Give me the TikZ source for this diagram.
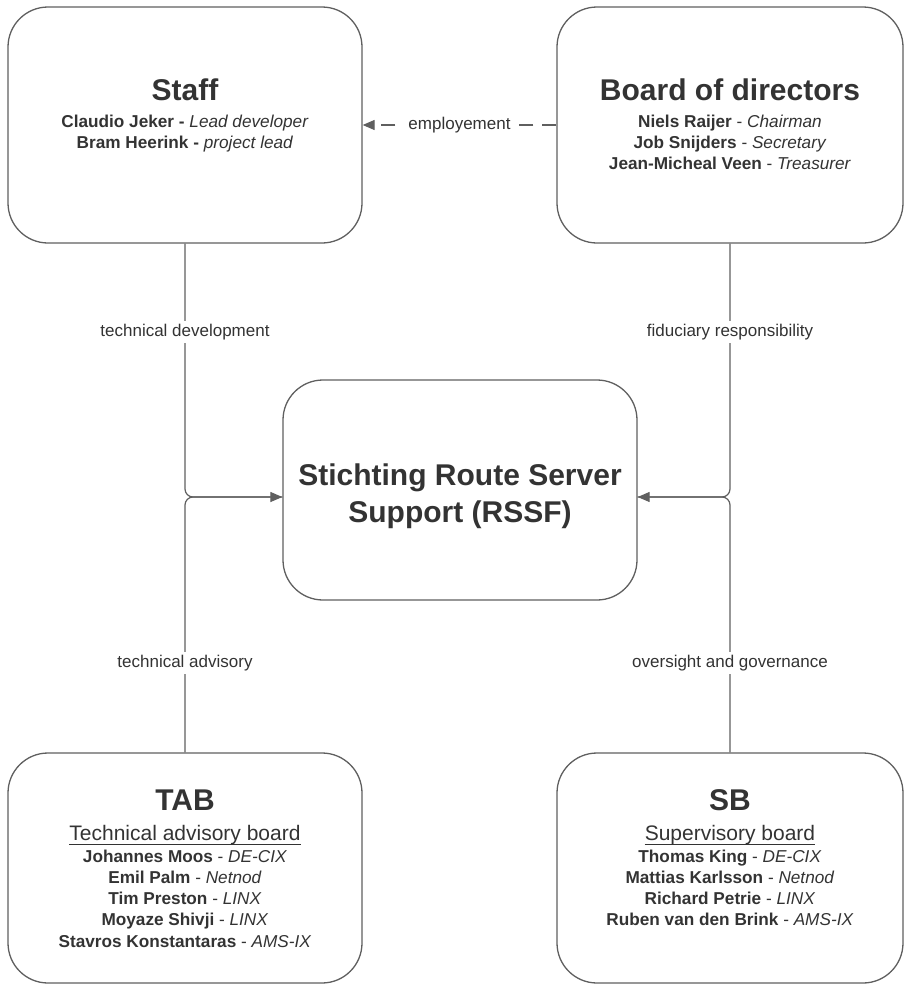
\documentclass[tikz,border=0pt]{standalone}
\usepackage{fontspec}
\setmainfont{Liberation Sans}
\usetikzlibrary{arrows.meta}
\definecolor{txt}{HTML}{333333}
\definecolor{ln}{HTML}{5F5F5F}
\begin{document}
\begin{tikzpicture}[x=1pt,y=-1pt,
 box/.style={draw=ln, line width=1.3pt, rounded corners=40pt, minimum width=354pt, minimum height=236pt, inner sep=0pt},
 title/.style={anchor=base, font=\fontsize{30}{36}\selectfont\bfseries, text=txt, inner sep=0pt},
 person/.style={anchor=base, font=\fontsize{17.2}{20}\selectfont, text=txt, inner sep=0pt},
 subtitle/.style={anchor=base, font=\fontsize{21}{25}\selectfont, text=txt, inner sep=0pt},
 uline/.style={draw=txt, line width=1pt},
 conn/.style={draw=ln, line width=1.2pt, rounded corners=8pt},
 lbl/.style={fill=white, font=\fontsize{17}{20}\selectfont, text=txt, inner sep=3pt},
 tip/.style={-{Triangle[length=12pt,width=10pt]}}
]
\useasboundingbox (0,0) rectangle (904,986);
% boxes
\node[box] (staff) at (185,125) {};
\node[box, minimum width=346pt] (board) at (730,125) {};
\node[box, minimum height=220pt] (ctr) at (460,490) {};
\node[box, minimum height=230pt] (tab) at (185,868) {};
\node[box, minimum width=346pt, minimum height=230pt] (sb) at (730,868) {};
% Staff
\node[title] (stafft) at (185,100) {Staff};
\node[person] (staff1) at (185,127) {\textbf{Claudio Jeker -} \textit{Lead developer}};
\node[person] (staff2) at (185,148) {\textbf{Bram Heerink -} \textit{project lead}};
% Board
\node[title] (boardt) at (730,100) {Board of directors};
\node[person] (board1) at (730,127) {\textbf{Niels Raijer} - \textit{Chairman}};
\node[person] (board2) at (730,148) {\textbf{Job Snijders} - \textit{Secretary}};
\node[person] (board3) at (730,169) {\textbf{Jean-Micheal Veen} - \textit{Treasurer}};
% Center
\node[title] (ctr1) at (460,485) {Stichting Route Server};
\node[title] (ctr2) at (460,522) {Support (RSSF)};
% TAB
\node[title] (tabt) at (185,810) {TAB};
\node[subtitle] (tabs) at (185,840) {Technical advisory board};
\draw[uline] (tabs.south west) -- (tabs.south east);
\node[person] (tab1) at (185,862) {\textbf{Johannes Moos} - \textit{DE-CIX}};
\node[person] (tab2) at (185,883) {\textbf{Emil Palm} - \textit{Netnod}};
\node[person] (tab3) at (185,904) {\textbf{Tim Preston} - \textit{LINX}};
\node[person] (tab4) at (185,925) {\textbf{Moyaze Shivji} - \textit{LINX}};
\node[person] (tab5) at (185,947) {\textbf{Stavros Konstantaras} - \textit{AMS-IX}};
% SB
\node[title] (sbt) at (730,810) {SB};
\node[subtitle] (sbs) at (730,840) {Supervisory board};
\draw[uline] (sbs.south west) -- (sbs.south east);
\node[person] (sb1) at (730,862) {\textbf{Thomas King} - \textit{DE-CIX}};
\node[person] (sb2) at (730,883) {\textbf{Mattias Karlsson} - \textit{Netnod}};
\node[person] (sb3) at (730,904) {\textbf{Richard Petrie} - \textit{LINX}};
\node[person] (sb4) at (730,925) {\textbf{Ruben van den Brink} - \textit{AMS-IX}};
% connectors
\coordinate (jy) at (0,497);
\coordinate (inL) at (ctr.west |- jy);
\coordinate (inR) at (ctr.east |- jy);
\draw[conn, tip] (staff.south) |- (inL);
\draw[conn] (tab.north) |- (inL);
\draw[conn, tip] (board.south) |- (inR);
\draw[conn] (sb.north) |- (inR);
\node[lbl] (l1) at (185,332) {technical development};
\node[lbl] (l2) at (730,332) {fiduciary responsibility};
\node[lbl] (l3) at (185,663) {technical advisory};
\node[lbl] (l4) at (730,663) {oversight and governance};
\draw[draw=ln, line width=1.2pt, dash pattern=on 14pt off 9pt, tip] (board.west) -- node[lbl, inner sep=4pt] (emp) {employement} (staff.east);
\end{tikzpicture}
\end{document}
